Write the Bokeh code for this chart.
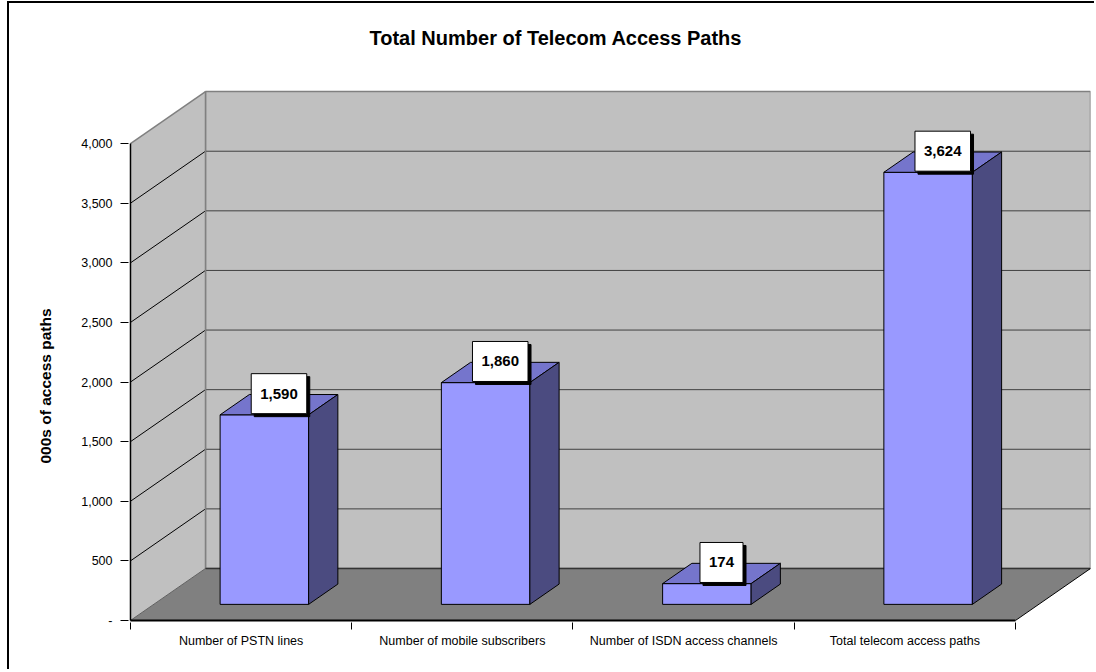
from bokeh.plotting import figure
from bokeh.models import Range1d, FixedTicker, Title, ColumnDataSource
from bokeh.core.properties import value
from bokeh.embed import file_html
from bokeh.resources import INLINE

# ---------------- data ----------------
categories = [
    "Number of PSTN lines",
    "Number of mobile subscribers",
    "Number of ISDN access channels",
    "Total telecom access paths",
]
values = [1590, 1860, 174, 3624]
y_ticks = [0, 500, 1000, 1500, 2000, 2500, 3000, 3500, 4000]
y_tick_labels = ["-", "500", "1,000", "1,500", "2,000", "2,500", "3,000", "3,500", "4,000"]
title_text = "Total Number of Telecom Access Paths"
y_label = "000s of access paths"

# ---------------- geometry / style ----------------
FONT = "Liberation Sans"
n = len(categories)
YMAX = y_ticks[-1]
DX = 0.339     # 3-D depth offset (category units)
DY = 436.0     # 3-D depth offset (value units)
F0, F1 = 0.31, 0.70   # bar front/back depth fractions
BW = 0.40      # bar width (category units)

W, H = 1087, 668
MB_L, MB_R, MB_T, MB_B = 119, 6, 57, 49

p = figure(width=W, height=H, output_backend="svg", toolbar_location=None,
           x_range=Range1d(-0.009, n + DX), y_range=Range1d(-17, 4697),
           min_border_left=MB_L, min_border_right=MB_R,
           min_border_top=MB_T, min_border_bottom=MB_B)
p.styles = {"margin-left": "7px", "margin-top": "1px",
            "border-left": "2px solid black", "border-top": "2px solid black"}
p.outline_line_color = None
p.background_fill_color = "white"
p.border_fill_color = "white"
p.xgrid.visible = False
p.ygrid.visible = False

# title
p.title.text = title_text
p.title.align = "left"
p.title.offset = 241
p.title.standoff = 24
p.title.text_font = FONT
p.title.text_font_size = "20px"
p.title.text_font_style = "bold"
p.title.text_color = "black"

# y-axis label as left title
yt = Title(text=y_label, align="left", offset=159, standoff=50,
           text_font=FONT, text_font_size="15.5px", text_font_style="bold",
           text_color="black")
p.add_layout(yt, "left")

# ---------------- walls & floor ----------------
p.quad(left=DX, right=n + DX, bottom=DY, top=YMAX + DY,
       fill_color="#C0C0C0", line_color="#808080", line_width=1.5)
p.patch([0, DX, DX, 0], [0, DY, YMAX + DY, YMAX],
        fill_color="#C0C0C0", line_color=None)
p.patch([0, n, n + DX, DX], [0, 0, DY, DY],
        fill_color="#808080", line_color=None)

grid_vals = [v for v in y_ticks if 0 < v < YMAX]
# back-wall gridlines
p.segment(x0=[DX] * len(grid_vals), y0=[v + DY for v in grid_vals],
          x1=[n + DX] * len(grid_vals), y1=[v + DY for v in grid_vals],
          line_color="#404040", line_width=1)
# left-wall gridlines
p.segment(x0=[0] * len(grid_vals), y0=grid_vals,
          x1=[DX] * len(grid_vals), y1=[v + DY for v in grid_vals],
          line_color="black", line_width=1)
# wall / floor edges
p.segment(x0=[0, DX], y0=[YMAX, DY], x1=[DX, DX], y1=[YMAX + DY, YMAX + DY],
          line_color="#808080", line_width=1.5)
p.segment(x0=[0], y0=[0], x1=[DX], y1=[DY], line_color="#606060", line_width=1)
p.segment(x0=[DX], y0=[DY], x1=[n + DX], y1=[DY], line_color="#333333", line_width=1.5)
p.segment(x0=[n], y0=[0], x1=[n + DX], y1=[DY], line_color="black", line_width=1)
p.segment(x0=[0], y0=[0], x1=[0], y1=[YMAX], line_color="black", line_width=1.5)
p.segment(x0=[0], y0=[0], x1=[n], y1=[0], line_color="black", line_width=2)

# ---------------- bars ----------------
fx, fy, tx, ty, sx_, sy_ = [], [], [], [], [], []
for i, v in enumerate(values):
    x0 = i + 0.5 - BW / 2
    x1 = i + 0.5 + BW / 2
    a0x, a0y = F0 * DX, F0 * DY
    a1x, a1y = F1 * DX, F1 * DY
    fx.append([x0 + a0x, x1 + a0x, x1 + a0x, x0 + a0x])
    fy.append([a0y, a0y, v + a0y, v + a0y])
    tx.append([x0 + a0x, x1 + a0x, x1 + a1x, x0 + a1x])
    ty.append([v + a0y, v + a0y, v + a1y, v + a1y])
    sx_.append([x1 + a0x, x1 + a1x, x1 + a1x, x1 + a0x])
    sy_.append([a0y, a1y, v + a1y, v + a0y])
p.patches(fx, fy, fill_color="#9999FF", line_color="black", line_width=1)
p.patches(tx, ty, fill_color="#7575CC", line_color="black", line_width=1)
p.patches(sx_, sy_, fill_color="#4B4B80", line_color="black", line_width=1)

# ---------------- value labels ----------------
mid = (F0 + F1) / 2
src = ColumnDataSource(dict(
    x=[i + 0.5 + mid * DX for i in range(n)],
    y=[v + mid * DY for v in values],
    t=[f"{v:,}" for v in values],
))
pad = dict(left=9, right=9, top=15, bottom=15)
common = dict(text="t", source=src, text_align="center", text_baseline="middle",
              text_font=value(FONT), text_font_size="15px", text_font_style="bold",
              padding=pad)
p.text("x", "y", x_offset=3, y_offset=-8, text_color="black",
       background_fill_color="black", border_line_color="black", **common)
p.text("x", "y", x_offset=0, y_offset=-11, text_color="black",
       background_fill_color="white", border_line_color="black",
       border_line_width=1, **common)

# ---------------- axes ----------------
xa = p.xaxis[0]
xa.ticker = FixedTicker(ticks=[i + 0.5 for i in range(n)], minor_ticks=list(range(n + 1)))
xa.major_label_overrides = {i + 0.5: c for i, c in enumerate(categories)}
xa.axis_line_color = None
xa.major_tick_line_color = None
xa.major_tick_out = 0
xa.major_tick_in = 0
xa.minor_tick_out = 7
xa.minor_tick_in = 0
xa.minor_tick_line_color = "black"
xa.major_label_standoff = 4
xa.major_label_text_font = FONT
xa.major_label_text_font_size = "12.5px"
xa.major_label_text_color = "black"

ya = p.yaxis[0]
ya.ticker = FixedTicker(ticks=y_ticks, minor_ticks=[])
ya.major_label_overrides = dict(zip(y_ticks, y_tick_labels))
ya.axis_line_color = None
ya.major_tick_out = 8
ya.major_tick_in = 0
ya.major_tick_line_color = "black"
ya.minor_tick_line_color = None
ya.major_label_standoff = 8
ya.major_label_text_font = FONT
ya.major_label_text_font_size = "12.5px"
ya.major_label_text_color = "black"

open("out.html", "w").write(file_html(p, INLINE))
